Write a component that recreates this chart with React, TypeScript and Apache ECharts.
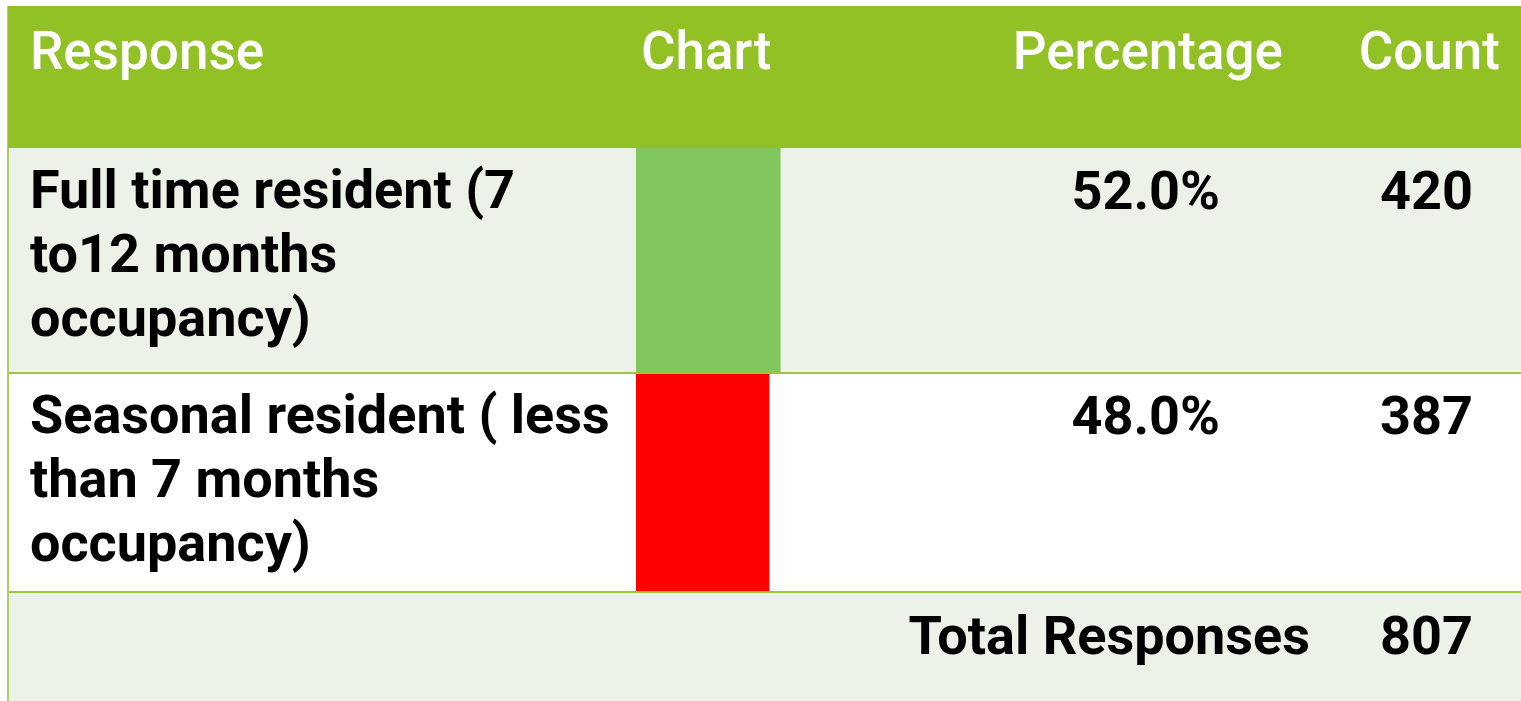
import React, { useEffect, useRef } from "react";
import * as echarts from "echarts";

const headers = ["Response", "Chart", "Percentage", "Count"];
const responses = [
  "Full time resident (7\nto12 months\noccupancy)",
  "Seasonal resident ( less\nthan 7 months\noccupancy)",
];
const percentages = [52.0, 48.0];
const counts = [420, 387];
const barColors = ["#82C65E", "#FF0000"];
const totalLabel = "Total Responses";
const totalCount = 807;

const FONT = "Roboto";
const FS = 54;

export default function App() {
  const ref = useRef<HTMLDivElement>(null);
  useEffect(() => {
    if (!ref.current) return;
    const chart = echarts.init(ref.current, null, { renderer: "svg" });
    const rowTops = [148, 374];
    const rowHeights = [224, 217];
    const rowBg = ["#EDF2E8", "#FFFFFF"];
    const barLeft = 636;
    const barFullWidth = 278;

    const grids = rowTops.map((t, i) => ({
      left: barLeft,
      top: t,
      width: barFullWidth,
      height: rowHeights[i],
      containLabel: false,
    }));
    const xAxes = rowTops.map((_, i) => ({
      type: "value" as const,
      gridIndex: i,
      min: 0,
      max: 100,
      show: false,
    }));
    const yAxes = rowTops.map((_, i) => ({
      type: "category" as const,
      gridIndex: i,
      data: [responses[i]],
      show: false,
    }));
    const series = percentages.map((p, i) => ({
      type: "bar" as const,
      xAxisIndex: i,
      yAxisIndex: i,
      data: [p],
      barWidth: "100%",
      itemStyle: { color: barColors[i] },
      silent: true,
      z: 5,
    }));

    const textStyle = (extra: any) => ({
      fontFamily: FONT,
      fontSize: FS,
      fontWeight: "bold",
      fill: "#000",
      ...extra,
    });
    const headStyle = (extra: any) =>
      textStyle({ fill: "#fff", fontWeight: 500, fontSize: 53, verticalAlign: "middle", ...extra });

    const graphic: any[] = [
      { type: "rect", shape: { x: 7, y: 6, width: 1514, height: 142 }, style: { fill: "#92C125" }, z: 0 },
      { type: "rect", shape: { x: 8, y: 148, width: 1513, height: 224 }, style: { fill: rowBg[0] }, z: 0 },
      { type: "rect", shape: { x: 8, y: 374, width: 1513, height: 217 }, style: { fill: rowBg[1] }, z: 0 },
      { type: "rect", shape: { x: 8, y: 593, width: 1513, height: 108 }, style: { fill: "#EDF2E8" }, z: 0 },
      { type: "rect", shape: { x: 8, y: 372, width: 1513, height: 2 }, style: { fill: "#9BC63A" }, z: 1 },
      { type: "rect", shape: { x: 8, y: 591, width: 1513, height: 2 }, style: { fill: "#9BC63A" }, z: 1 },
      { type: "rect", shape: { x: 7, y: 148, width: 2, height: 553 }, style: { fill: "#A8CF5A" }, z: 1 },
      { type: "rect", shape: { x: 7, y: 6, width: 1, height: 142 }, style: { fill: "#B5C99A" }, z: 1 },
      // header texts
      { type: "text", x: 30, y: 51, style: headStyle({ text: headers[0] }), z: 10 },
      { type: "text", x: 641, y: 51, style: headStyle({ text: headers[1] }), z: 10 },
      { type: "text", x: 1283, y: 51, style: headStyle({ text: headers[2], align: "right" }), z: 10 },
      { type: "text", x: 1500, y: 51, style: headStyle({ text: headers[3], align: "right" }), z: 10 },
    ];
    const rowCenters = [190, 415];
    responses.forEach((r, i) => {
      graphic.push({ type: "text", x: 30, y: rowCenters[i] - 33, style: textStyle({ text: r, lineHeight: 64, verticalAlign: "top" }), z: 10 });
      graphic.push({ type: "text", x: 1220, y: rowCenters[i], style: textStyle({ text: percentages[i].toFixed(1) + "%", align: "right", verticalAlign: "middle" }), z: 10 });
      graphic.push({ type: "text", x: 1473, y: rowCenters[i], style: textStyle({ text: String(counts[i]), align: "right", verticalAlign: "middle" }), z: 10 });
    });
    graphic.push({ type: "text", x: 1310, y: 635, style: textStyle({ text: totalLabel, align: "right", verticalAlign: "middle" }), z: 10 });
    graphic.push({ type: "text", x: 1473, y: 635, style: textStyle({ text: String(totalCount), align: "right", verticalAlign: "middle" }), z: 10 });

    chart.setOption({
      animation: false,
      backgroundColor: "#fff",
      grid: grids,
      xAxis: xAxes,
      yAxis: yAxes,
      series,
      graphic,
    });
    return () => chart.dispose();
  }, []);
  return (
    <div
      ref={ref}
      style={{ position: "fixed", left: 0, top: 0, width: 1521, height: 701 }}
    />
  );
}
